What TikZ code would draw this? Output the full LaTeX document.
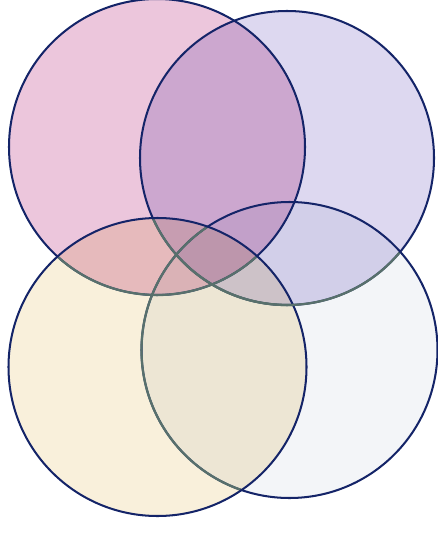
\documentclass[tikz,border=0pt]{standalone}

\definecolor{pinkfill}{RGB}{236,198,220}
\definecolor{lilacfill}{RGB}{221,216,240}
\definecolor{creamfill}{RGB}{249,240,219}
\definecolor{palefill}{RGB}{243,245,248}
\definecolor{rimdark}{RGB}{20,36,104}
\definecolor{rimfaint}{RGB}{88,112,108}

\begin{document}
\begin{tikzpicture}[
    x=0.02cm,
    y=-0.02cm,
    line cap=round,
    line join=round,
    disc/.style={
        blend mode=multiply
    },
    rim/.style={
        draw=rimdark,
        line width=1.15pt
    },
    faintrim/.style={
        draw=rimfaint,
        line width=1.3pt
    }
]

\useasboundingbox (0,0) rectangle (438,533);

% =================================================
% Центры и радиусы кругов
% =================================================

\coordinate (O1) at (157,147);
\coordinate (O2) at (287,158);
\coordinate (O3) at (157.5,367);
\coordinate (O4) at (289.5,350);

\def\Ra{148}
\def\Rb{147}
\def\Rc{149}
\def\Rd{148}

% =================================================
% Заливка кругов
% =================================================

\fill[pinkfill, disc]  (O1) circle[radius=\Ra];
\fill[lilacfill, disc] (O2) circle[radius=\Rb];
\fill[palefill, disc]  (O4) circle[radius=\Rd];
\fill[creamfill, disc] (O3) circle[radius=\Rc];

% =================================================
% Контуры кругов
% =================================================

\draw[rim] (O1) circle[radius=\Ra];
\draw[rim] (O2) circle[radius=\Rb];
\draw[rim] (O4) circle[radius=\Rd];
\draw[rim] (O3) circle[radius=\Rc];

% =================================================
% Бледные дуги под верхними кругами
% =================================================

\begin{scope}
    \clip (O3) circle[radius=\Rc-1.2];
    \draw[faintrim] (O1) circle[radius=\Ra];
    \draw[faintrim] (O2) circle[radius=\Rb];
    \draw[faintrim] (O4) circle[radius=\Rd];
\end{scope}

\begin{scope}
    \clip (O4) circle[radius=\Rd-1.2];
    \draw[faintrim] (O2) circle[radius=\Rb];
\end{scope}

\end{tikzpicture}
\end{document}
